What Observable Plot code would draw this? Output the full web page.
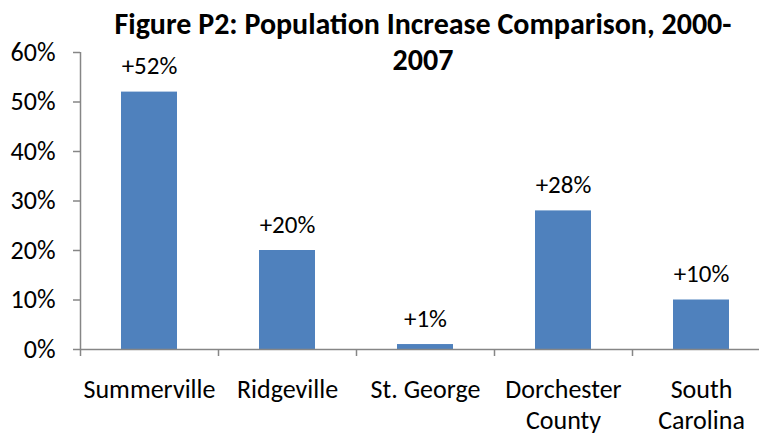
<!DOCTYPE html>
<html>
<head>
<meta charset="utf-8">
<script src="https://cdn.jsdelivr.net/npm/d3@7"></script>
<script src="https://cdn.jsdelivr.net/npm/@observablehq/plot@0.6"></script>
<style>
  html, body { margin: 0; padding: 0; background: #fff; }
  #chart { width: 759px; height: 436px; }
</style>
</head>
<body>
<div id="chart"></div>
<script>
const categories = ["Summerville", "Ridgeville", "St. George", "Dorchester County", "South Carolina"];
const tickLabels = ["Summerville", "Ridgeville", "St. George", "Dorchester\nCounty", "South\nCarolina"];
const increases = [0.52, 0.20, 0.01, 0.28, 0.10];
const valueLabels = ["+52%", "+20%", "+1%", "+28%", "+10%"];
const yTicks = [0, 0.1, 0.2, 0.3, 0.4, 0.5, 0.6];
const title = "Figure P2: Population Increase Comparison, 2000-\n2007";

const data = categories.map((c, i) => ({category: c, value: increases[i], label: valueLabels[i]}));
const labelOf = new Map(categories.map((c, i) => [c, tickLabels[i]]));

const FONT = "Carlito, Lato, sans-serif";
const AXIS = "#868686";

const chart = Plot.plot({
  width: 759,
  height: 436,
  marginTop: 52,
  marginBottom: 87,
  marginLeft: 80,
  marginRight: 0,
  style: {fontFamily: FONT, fontSize: "26px", color: "#000", background: "#fff", overflow: "visible"},
  x: {domain: categories, range: [80, 770], paddingInner: 0.595, paddingOuter: 0.2975, align: 0.5},
  y: {domain: [0, 0.6], ticks: yTicks},
  marks: [
    Plot.barY(data, {x: "category", y: "value", fill: "#4F81BD"}),
    Plot.axisY({ticks: yTicks, tickFormat: d3.format(".0%"), tickSize: 7, tickPadding: 18, stroke: AXIS, strokeWidth: 1.5, fontSize: 26, label: null}),
    Plot.ruleX([categories[0]], {x: d => d, y1: 0, y2: 0.6, dx: -69, stroke: AXIS, strokeWidth: 1.5}),
    Plot.axisX({tickSize: 0, tickPadding: 26, tickFormat: d => labelOf.get(d), fontSize: 26, lineHeight: 1.2, label: null}),
    Plot.ruleY([0], {stroke: AXIS, strokeWidth: 1.5}),
    Plot.ruleX(categories, {x: d => d, y1: 0, y2: 0, insetBottom: -7, dx: -69, stroke: AXIS, strokeWidth: 1.5}),
    Plot.text(data, {x: "category", y: "value", text: "label", dy: -26, fontSize: 25, lineAnchor: "middle", fill: "#000"}),
    Plot.text([title], {frameAnchor: "top", text: d => d, dy: -43, dx: 3, lineAnchor: "top", fontSize: 30, fontWeight: "bold", lineHeight: 1.17, fill: "#000"})
  ]
});
document.getElementById("chart").appendChild(chart);
</script>
</body>
</html>
